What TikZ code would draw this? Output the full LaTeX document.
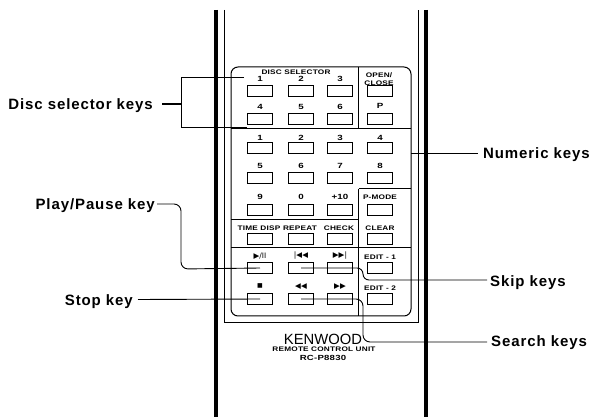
\documentclass[tikz,border=0pt]{standalone}
\usepackage{fontspec}
\setmainfont{Liberation Sans}
\newfontfamily\symf{DejaVu Sans}
\begin{document}
\begin{tikzpicture}[x=1pt,y=-1pt,
  keybox/.style={draw=black,line width=1.1pt,minimum width=25.5pt,minimum height=10.5pt,inner sep=0pt,outer sep=0pt},
  tiny/.style={font=\fontsize{6.6}{7}\bfseries\addfontfeatures{FakeStretch=1.25,LetterSpace=3},inner sep=0pt,align=center},
  num/.style={font=\fontsize{7.5}{8}\bfseries\addfontfeatures{FakeStretch=1.3},inner sep=0pt},
  sym/.style={font=\fontsize{7.5}{8}\symf,inner sep=0pt},
  callout/.style={font=\fontsize{15}{17}\bfseries\addfontfeatures{LetterSpace=6},inner sep=0pt},
  lead/.style={draw=black,line width=0.9pt},
  shell/.style={draw=black,line width=3.5pt},
  frame/.style={draw=black,line width=1pt}]
\useasboundingbox (0,0) rectangle (590,417);
\fill[white] (0,0) rectangle (590,417);
% casing
\coordinate (ltA) at (216,10); \coordinate (ltB) at (216,417);
\coordinate (rtA) at (426,10); \coordinate (rtB) at (426,417);
\draw[shell] (ltA) -- (ltB);
\draw[shell] (rtA) -- (rtB);
\draw[frame] (224,10) -- (224,323) -- (418,323) -- (418,10);
% panel
\draw[frame,rounded corners=7pt] (231,67) rectangle (411,316);
\draw[frame] (231,129) -- (411,129);
\draw[frame] (358.5,67) -- (358.5,129);
\draw[frame] (358.5,189) -- (411,189);
\draw[frame] (358.5,189) -- (358.5,248);
\draw[frame] (231,220) -- (358.5,220);
\draw[frame] (231,248) -- (411,248);
\draw[frame] (358.5,248) -- (358.5,316);
% keys
\foreach \n/\x/\y in {a1/260/91,a2/301/91,a3/340/91,a4/380/91,
  b1/260/119,b2/301/119,b3/340/119,b4/380/119,
  c1/260/148,c2/301/148,c3/340/148,c4/380/148,
  d1/260/178,d2/301/178,d3/340/178,d4/380/178,
  e1/260/210,e2/301/210,e3/340/210,e4/380/210,
  f1/260/239,f2/301/239,f3/340/239,f4/380/239,
  g1/260/268,g2/301/268,g3/340/268,g4/380/268,
  h1/260/299,h2/301/299,h3/340/299,h4/380/299}
  {\node[keybox] (\n) at (\x,\y) {};}
% key captions
\node[tiny] (tdisc) at (296,72) {DISC SELECTOR};
\node[tiny,align=center] (topen) at (379,79) {OPEN/\\[1pt]CLOSE};
\foreach \n/\x/\y/\t in {l1/260/79/1,l2/301/79/2,l3/340/79/3,
  l4/260/107/4,l5/301/107/5,l6/340/107/6,lp/380/106/P,
  m1/260/138/1,m2/301/138/2,m3/340/138/3,m4/380/138/4,
  m5/260/166/5,m6/301/166/6,m7/340/166/7,m8/380/166/8,
  m9/260/197/9,m0/301/197/0,m10/340/197/+10}
  {\node[num] (\n) at (\x,\y) {\t};}
\node[tiny] (tmode) at (380,197) {P-MODE};
\node[tiny] (ttime) at (259,228) {TIME DISP};
\node[tiny] (trep) at (300,228) {REPEAT};
\node[tiny] (tchk) at (339,228) {CHECK};
\node[tiny] (tclr) at (380,228) {CLEAR};
\node[sym] (splay) at (260,256) {▶/II};
\node[sym] (sprev) at (301,256) {|◀◀};
\node[sym] (snext) at (340,256) {▶▶|};
\node[tiny] (ted1) at (380,257) {EDIT - 1};
\node[sym,font=\fontsize{6}{6}\symf] (sstop) at (260,286) {■};
\node[sym] (srew) at (301,287) {◀◀};
\node[sym] (sfwd) at (340,287) {▶▶};
\node[tiny] (ted2) at (380,288) {EDIT - 2};
% brand
\node[font=\fontsize{14.8}{15}\selectfont,inner sep=0pt] (brand) at (323,339) {KENWOOD};
\node[tiny] (unit) at (324,349.5) {REMOTE CONTROL UNIT};
\node[tiny,font=\fontsize{7.4}{8}\bfseries\addfontfeatures{FakeStretch=1.3,LetterSpace=3}] (model) at (323,358) {RC-P8830};
% callouts
\node[callout,anchor=east] (disc) at (153,106) {Disc selector keys};
\node[callout,anchor=west] (numeric) at (483,154.5) {Numeric keys};
\node[callout,anchor=east] (play) at (155,205.5) {Play/Pause key};
\node[callout,anchor=west] (skip) at (490,282.5) {Skip keys};
\node[callout,anchor=east] (stop) at (133,302) {Stop key};
\node[callout,anchor=west] (search) at (491,342.5) {Search keys};
% connectors
\coordinate (dj) at (181,104);
\coordinate (dstub) at (162,104);
\coordinate (dtop) at (181,77);
\coordinate (dbot) at (181,127.5);
\coordinate (dtopend) at (244,77);
\coordinate (dbotend) at (247,127.5);
\coordinate (dthick) at (231,127.5);
\draw[lead,line width=1.4pt] (dstub) -- (dj);
\draw[lead] (dtopend) -- (dtop) -- (dbot) -- (dbotend);
\draw[lead,line width=1.8pt] (dthick) -- (dbotend);
\coordinate (nstart) at (411,153);
\coordinate (nend) at (478,153);
\draw[lead] (nstart) -- (nend);
\coordinate (pstart) at (157,204);
\draw[lead,rounded corners=7pt] (pstart) -- (181,204) -- (181,269) -- (g1.center);
\coordinate (sstart) at (138,299.5);
\draw[lead] (sstart) -- (h1.center);
\coordinate (kend) at (487,280);
\draw[lead,rounded corners=6pt] (g2.center) -- (363,268) -- (363,280) -- (kend);
\coordinate (rend) at (487,342);
\draw[lead,rounded corners=7pt] (h2.center) -- (363,299) -- (363,342) -- (rend);
\end{tikzpicture}
\end{document}
